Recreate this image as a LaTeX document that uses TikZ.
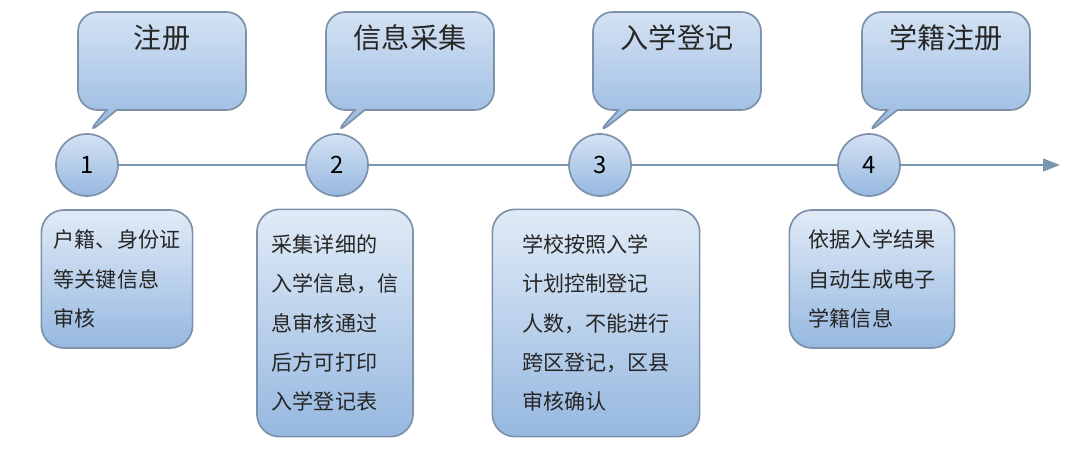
\documentclass[tikz,border=0pt]{standalone}
\usepackage{fontspec}
\setmainfont{Noto Sans CJK SC}
\usetikzlibrary{shapes.callouts,arrows.meta}
\definecolor{edgegray}{RGB}{125,145,170}
\definecolor{lightblue}{RGB}{212,226,243}
\definecolor{midblue}{RGB}{150,184,224}
\definecolor{linegray}{RGB}{120,150,175}
\tikzset{
  bubble/.style={rectangle callout, draw=edgegray, line width=1.2pt, rounded corners=14pt,
    top color=lightblue, bottom color=midblue, minimum width=4.2cm, minimum height=2.45cm,
    font=\fontsize{20}{24}\selectfont, text=black!85, text depth=1.2cm},
  stepdot/.style={circle, draw=edgegray, line width=1.2pt, top color=lightblue, bottom color=midblue,
    minimum size=1.55cm, inner sep=0pt, font=\fontsize{17}{20}\selectfont},
  infobox/.style={rectangle, draw=edgegray, line width=1.2pt, rounded corners=16pt,
    top color=lightblue!70!white, bottom color=midblue, align=left,
    font=\fontsize{15}{28}\selectfont, text=black!85}
}
\begin{document}
\begin{tikzpicture}[x=0.025cm, y=-0.025cm]
  \useasboundingbox (0,0) rectangle (1080,469);

  % 时间轴上的圆
  \node[stepdot] (c1) at (87,165) {1};
  \node[stepdot] (c2) at (337,165) {2};
  \node[stepdot] (c3) at (600,165) {3};
  \node[stepdot] (c4) at (869,165) {4};
  \coordinate (end) at (1060,165);

  % 轴线
  \draw[linegray, line width=1.5pt] (c1) -- (c2);
  \draw[linegray, line width=1.5pt] (c2) -- (c3);
  \draw[linegray, line width=1.5pt] (c3) -- (c4);
  \draw[linegray, line width=1.5pt, -{Triangle[length=12pt,width=9pt]}] (c4) -- (end);

  % 上面的气泡
  \node[bubble, callout absolute pointer={(85,136)}] (t1) at (162,61) {注册};
  \node[bubble, callout absolute pointer={(333,136)}] (t2) at (410,61) {信息采集};
  \node[bubble, callout absolute pointer={(595,136)}] (t3) at (677,61) {入学登记};
  \node[bubble, callout absolute pointer={(864,136)}] (t4) at (946,61) {学籍注册};

  % 下面的说明
  \node[infobox, minimum width=3.78cm, minimum height=3.45cm] (b1) at (117,279)
    {户籍、身份证\\等关键信息\\审核};
  \node[infobox, minimum width=3.9cm, minimum height=5.68cm] (b2) at (335,323)
    {采集详细的\\入学信息，信\\息审核通过\\后方可打印\\入学登记表};
  \node[infobox, minimum width=5.18cm, minimum height=5.68cm] (b3) at (596,323)
    {学校按照入学\\计划控制登记\\人数，不能进行\\跨区登记，区县\\审核确认};
  \node[infobox, minimum width=4.13cm, minimum height=3.45cm] (b4) at (872,279)
    {依据入学结果\\自动生成电子\\学籍信息};
\end{tikzpicture}
\end{document}
